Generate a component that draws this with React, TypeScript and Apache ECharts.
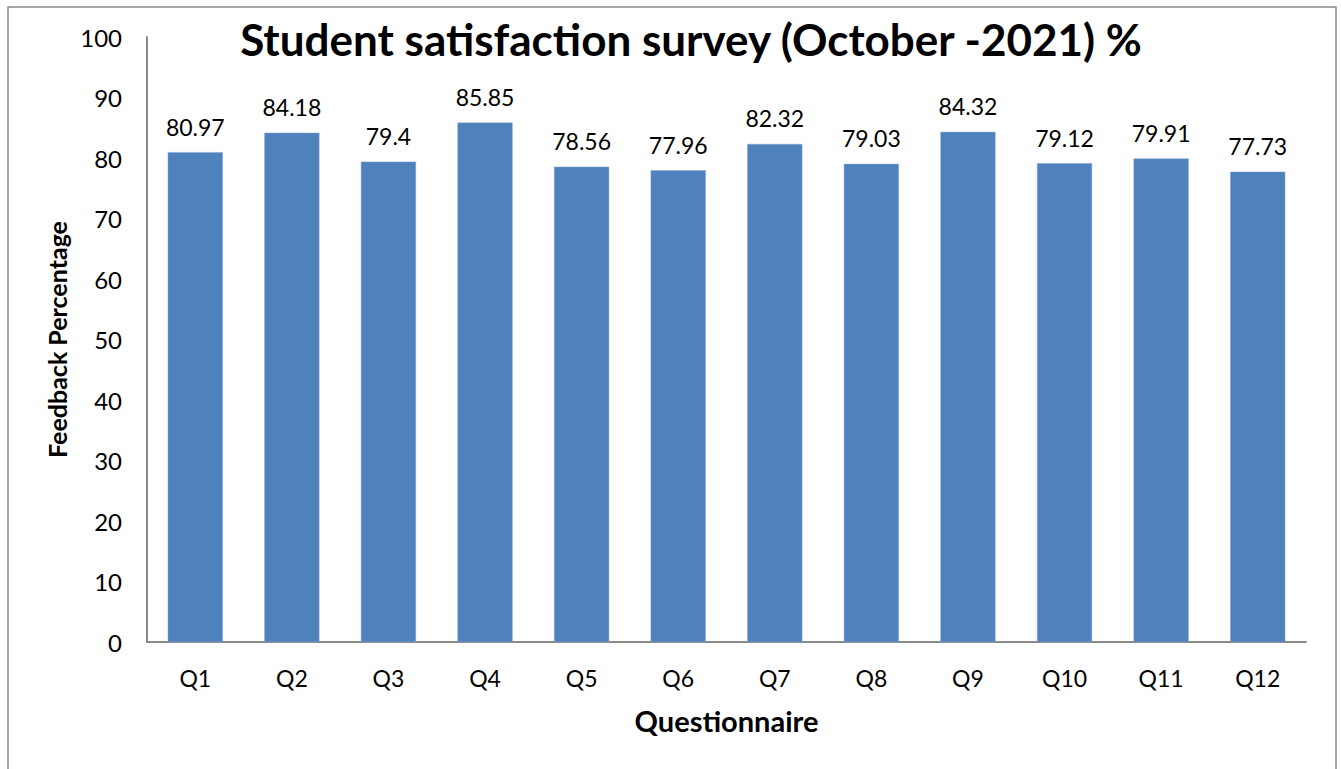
import React, { useEffect, useRef } from "react";
import * as echarts from "echarts";

const categories = ["Q1", "Q2", "Q3", "Q4", "Q5", "Q6", "Q7", "Q8", "Q9", "Q10", "Q11", "Q12"];
const values = [80.97, 84.18, 79.4, 85.85, 78.56, 77.96, 82.32, 79.03, 84.32, 79.12, 79.91, 77.73];
const titleText = "Student satisfaction survey (October -2021) %";
const yName = "Feedback Percentage";
const xName = "Questionnaire";

const FONT = "Lato, 'Open Sans', sans-serif";

export default function App() {
  const ref = useRef<HTMLDivElement>(null);
  useEffect(() => {
    if (!ref.current) return;
    const chart = echarts.init(ref.current, undefined, { renderer: "svg" });
    chart.setOption({
      animation: false,
      backgroundColor: "#ffffff",
      textStyle: { fontFamily: FONT },
      title: {
        text: titleText,
        left: 686,
        textAlign: "center",
        top: 12,
        textStyle: { fontSize: 44, fontWeight: "bold", color: "#000", fontFamily: FONT },
      },
      graphic: [
        {
          type: "rect",
          shape: { x: 8, y: 7, width: 1328, height: 800 },
          style: { fill: "none", stroke: "#8a8a8a", lineWidth: 1.5 },
          silent: true,
        },
      ],
      grid: { left: 147, top: 37, right: 35, bottom: 127 },
      xAxis: {
        type: "category",
        data: categories,
        name: xName,
        nameLocation: "middle",
        nameGap: 64,
        nameTextStyle: { fontSize: 29, fontWeight: "bold", color: "#000", fontFamily: FONT },
        axisLine: { lineStyle: { color: "#8a8a8a", width: 2 } },
        axisTick: { show: false },
        axisLabel: { fontSize: 23, color: "#000", margin: 24, fontFamily: FONT },
      },
      yAxis: {
        type: "value",
        min: 0,
        max: 100,
        interval: 10,
        name: yName,
        nameLocation: "middle",
        nameGap: 76,
        nameTextStyle: { fontSize: 25, fontWeight: "bold", color: "#000", fontFamily: FONT },
        axisLine: { show: true, lineStyle: { color: "#8a8a8a", width: 2 } },
        axisTick: { show: false },
        splitLine: { show: false },
        axisLabel: { fontSize: 24, color: "#000", margin: 25, fontFamily: FONT },
      },
      series: [
        {
          type: "bar",
          data: values,
          barWidth: "57%",
          itemStyle: { color: "#4F81BD", borderColor: "#7ea2d0", borderWidth: 0.5 },
          label: {
            show: true,
            position: "top",
            distance: 14,
            fontSize: 23,
            color: "#000",
            fontFamily: FONT,
          },
        },
      ],
    });
    return () => chart.dispose();
  }, []);
  return (
    <div
      ref={ref}
      style={{ position: "fixed", left: 0, top: 0, width: 1341, height: 769 }}
    />
  );
}
